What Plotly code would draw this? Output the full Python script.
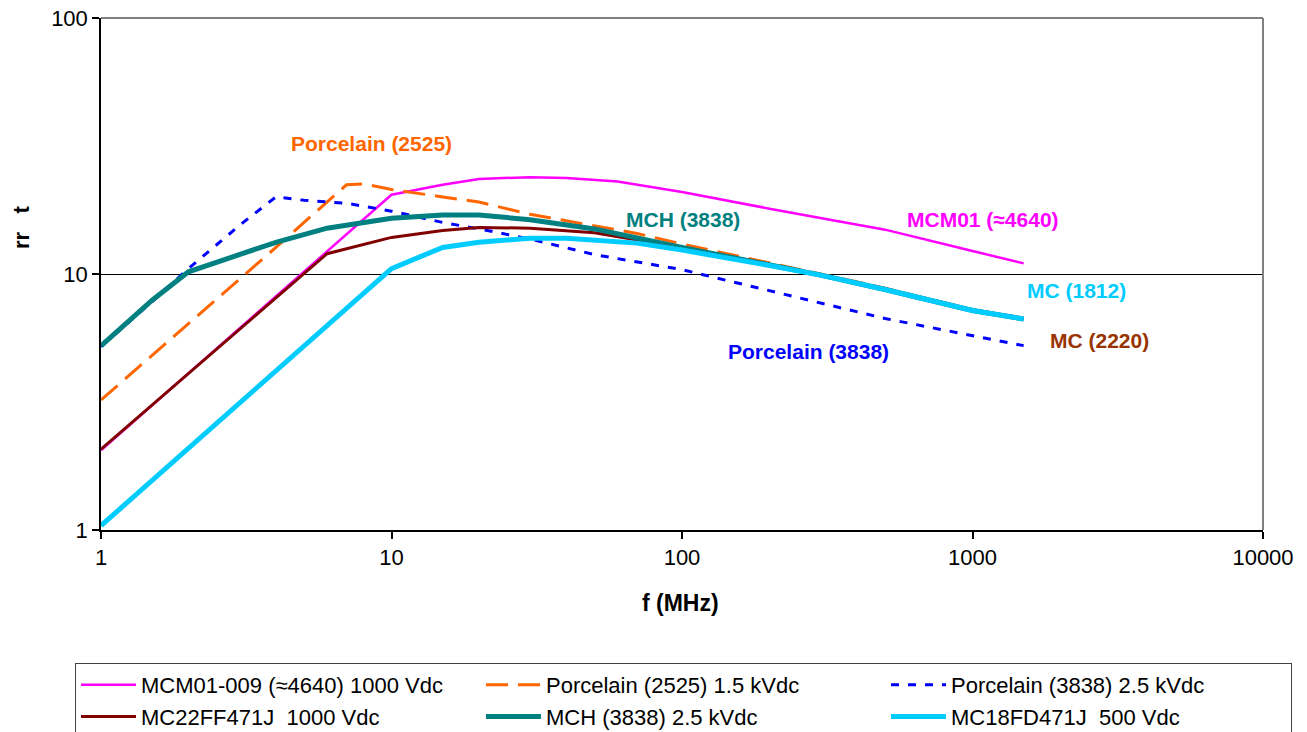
import plotly.graph_objects as go

# ---- data (frequency in MHz, value) ----
mcm01_f = [1, 10, 15, 20, 30, 40, 60, 100, 200, 500, 1000, 1500]
mcm01_v = [2.05, 20.4, 22.3, 23.5, 23.9, 23.7, 23.0, 20.9, 18.0, 14.9, 12.3, 11.0]

p2525_f = [1, 1.5, 2, 3, 4, 5, 6, 7, 8, 10, 15, 20, 30, 50, 70, 100, 200, 300, 500, 1000, 1500]
p2525_v = [3.22, 4.8, 6.4, 9.5, 12.7, 15.9, 19.1, 22.3, 22.5, 21.4, 20.0, 19.1, 17.1, 15.4, 14.4, 13.1, 11.0, 10.0, 8.8, 7.25, 6.7]

p3838_f = [1, 1.5, 2, 3, 4, 5, 7, 10, 15, 20, 30, 50, 100, 250, 500, 1500]
p3838_v = [5.2, 7.8, 10.5, 15.5, 20.0, 19.4, 18.9, 17.6, 15.9, 15.0, 13.7, 11.9, 10.4, 8.1, 6.7, 5.25]

mc22_f = [1, 6, 10, 15, 20, 30, 50, 100, 200, 300, 500, 1000, 1500]
mc22_v = [2.07, 12.0, 13.9, 14.8, 15.2, 15.1, 14.5, 12.7, 10.9, 9.9, 8.7, 7.2, 6.67]

mch_f = [1, 1.5, 2, 3, 4, 6, 8, 10, 15, 20, 30, 50, 100, 200, 300, 500, 1000, 1500]
mch_v = [5.24, 7.9, 10.2, 11.9, 13.3, 15.1, 15.9, 16.5, 17.0, 17.0, 16.3, 15.0, 12.7, 10.9, 9.9, 8.7, 7.2, 6.67]

mc18_f = [1, 10, 15, 20, 30, 40, 70, 100, 200, 300, 500, 1000, 1500]
mc18_v = [1.04, 10.5, 12.7, 13.3, 13.8, 13.8, 13.2, 12.4, 10.8, 9.9, 8.7, 7.2, 6.67]

x_ticks = [1, 10, 100, 1000, 10000]
x_ticktext = ["1", "10", "100", "1000", "10000"]
y_ticks = [1, 10, 100]
y_ticktext = ["1", "10", "100"]

series = [
    ("MCM01-009 (≈4640) 1000 Vdc", mcm01_f, mcm01_v, "#FF00FF", 2.5, "solid"),
    ("Porcelain (2525) 1.5 kVdc", p2525_f, p2525_v, "#FF6600", 3, "22px,10px"),
    ("Porcelain (3838) 2.5 kVdc", p3838_f, p3838_v, "#0000FF", 3, "8px,9px"),
    ("MC22FF471J  1000 Vdc", mc22_f, mc22_v, "#800000", 3, "solid"),
    ("MCH (3838) 2.5 kVdc", mch_f, mch_v, "#008080", 5, "solid"),
    ("MC18FD471J  500 Vdc", mc18_f, mc18_v, "#00CCFF", 5, "solid"),
]

FONT = "Arial, Liberation Sans, sans-serif"

fig = go.Figure()
for name, f, v, color, w, dash in series:
    fig.add_trace(go.Scatter(x=f, y=v, mode="lines", name=name,
                             line=dict(color=color, width=w, dash=dash)))

# page body adds an 8px offset; positions below are screen pixels
OFF = 8
W, H = 1307 - OFF, 732 - OFF
L, R, T, B = 101, 1263, 18, 530
PW, PH = R - L, B - T

def px(xp):
    return (xp - L) / PW

def py(yp):
    return (B - yp) / PH

labels = [
    ("Porcelain (2525)", 371, 143, "#FF6600"),
    ("MCH (3838)", 683, 219, "#008080"),
    ("MCM01 (≈4640)", 983, 219, "#FF00FF"),
    ("MC (1812)", 1076, 290, "#00CCFF"),
    ("MC (2220)", 1099, 340, "#993300"),
    ("Porcelain (3838)", 808, 351, "#0000FF"),
]
for text, x, y, c in labels:
    fig.add_annotation(x=px(x), y=py(y), xref="paper", yref="paper", text="<b>%s</b>" % text,
                       showarrow=False, font=dict(family=FONT, size=21, color=c),
                       xanchor="center", yanchor="middle")

fig.add_annotation(x=px(21), y=py(228), xref="paper", yref="paper", text="<b>rr   t</b>",
                   textangle=-90, showarrow=False, font=dict(family=FONT, size=22, color="black"),
                   xanchor="center", yanchor="middle")
fig.add_annotation(x=px(680), y=py(603), xref="paper", yref="paper", text="<b>f (MHz)</b>",
                   showarrow=False, font=dict(family=FONT, size=23, color="black"),
                   xanchor="center", yanchor="middle")

# top and right frame (gray)
fig.add_shape(type="line", xref="paper", yref="paper", x0=0, x1=1, y0=1, y1=1,
              line=dict(color="#808080", width=2), layer="above")
fig.add_shape(type="line", xref="paper", yref="paper", x0=1, x1=1, y0=0, y1=1,
              line=dict(color="#808080", width=2), layer="above")

fig.update_layout(
    width=W, height=H,
    margin=dict(l=L - OFF, r=1307 - R, t=T - OFF, b=732 - B, autoexpand=False),
    paper_bgcolor="white", plot_bgcolor="white",
    font=dict(family=FONT, size=21, color="black"),
    showlegend=True,
    legend=dict(orientation="h", x=px(75), y=py(663), xanchor="left", yanchor="top",
                entrywidth=335, entrywidthmode="pixels",
                bordercolor="#404040", borderwidth=1, bgcolor="white",
                font=dict(family=FONT, size=22, color="black"),
                tracegroupgap=0, itemwidth=55),
)
fig.update_xaxes(type="log", range=[0, 4], tickvals=x_ticks, ticktext=x_ticktext,
                 showgrid=False, zeroline=False, showline=True, linecolor="black", linewidth=1.5,
                 ticks="outside", ticklen=7, tickcolor="black", tickwidth=1.5,
                 ticklabeloverflow="allow",
                 tickfont=dict(family=FONT, size=22, color="black"))
fig.update_yaxes(type="log", range=[0, 2], tickvals=y_ticks, ticktext=y_ticktext,
                 showgrid=True, gridcolor="black", gridwidth=1, zeroline=False,
                 showline=True, linecolor="black", linewidth=1.5,
                 ticks="outside", ticklen=7, tickcolor="black", tickwidth=1.5,
                 ticklabeloverflow="allow",
                 tickfont=dict(family=FONT, size=22, color="black"))

fig.write_html("out.html")
